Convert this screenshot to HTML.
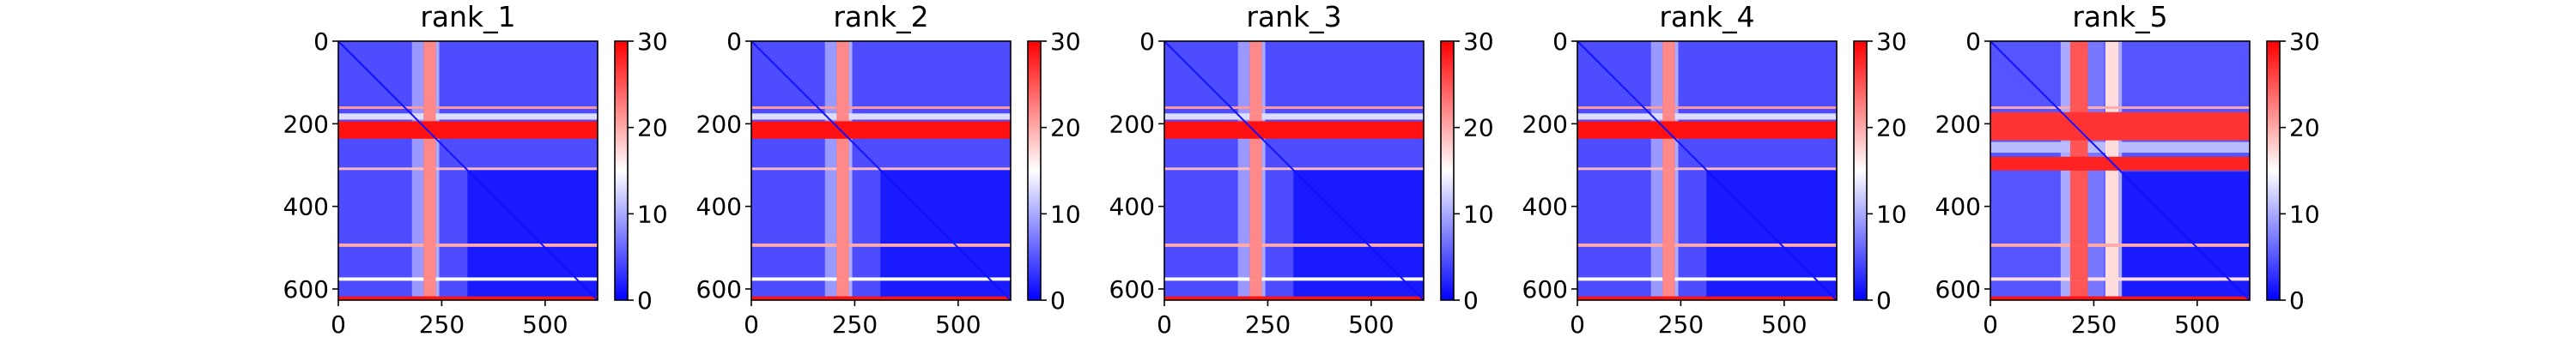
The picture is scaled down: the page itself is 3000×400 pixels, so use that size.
<!DOCTYPE html>
<html><head><meta charset="utf-8">
<style>
html,body{margin:0;padding:0;background:#fff;}
#root{position:relative;width:3000px;height:400px;overflow:hidden;font-family:"DejaVu Sans","Liberation Sans",sans-serif;}
svg{position:absolute;left:0;top:0;}
</style></head>
<body>
<div id="root">
<svg id="svg" width="3000" height="400" xmlns="http://www.w3.org/2000/svg">
<defs>
<linearGradient id="cbgrad" x1="0" y1="1" x2="0" y2="0">
<stop offset="0" stop-color="rgb(0,0,255)"/><stop offset="0.5" stop-color="#ffffff"/><stop offset="1" stop-color="rgb(255,0,0)"/>
</linearGradient>
</defs>
</svg>
</div>
<script>
// ---- data ----
var panelTitles = ["rank_1","rank_2","rank_3","rank_4","rank_5"];
var matrixSize = 627;
var xTicks = [0,250,500];
var yTicks = [0,200,400,600];
var cbTicks = [0,10,20,30];
var vmax = 30;
var rowsA = [[158,164,21],[175,190,13],[194,236,29],[306,312,19],[490,498,20],[572,580,15],[618,627,29]];
var colsA = [[178,206,9],[206,236,22],[236,244,10]];
var rows5 = [[158,164,20],[172,240,27],[244,270,11],[280,313,28],[490,498,20],[572,580,17],[618,627,29]];
var cols5 = [[170,193,10],[193,236,25],[236,275,7],[278,310,17],[310,318,10]];
var rowSets = [rowsA,rowsA,rowsA,rowsA,rows5];
var colSets = [colsA,colsA,colsA,colsA,cols5];
var blockSplit = [312,312,312,312,316];
var baseUpper = [4.5,4.5,4.5,4.5,5];
var baseLower = [1.5,1.5,1.5,1.5,1.5];

// ---- layout ----
var left0=394, stepX=481, topY=48, size=302;
var svg=document.getElementById('svg');
var NS='http://www.w3.org/2000/svg';
function el(tag,attrs,parent){var e=document.createElementNS(NS,tag);for(var k in attrs)e.setAttribute(k,attrs[k]);(parent||svg).appendChild(e);return e;}
function bwr(v){var t=Math.max(0,Math.min(1,v/vmax));var r,g,b;if(t<0.5){var s=t/0.5;r=255*s;g=255*s;b=255;}else{var s2=(t-0.5)/0.5;r=255;g=255*(1-s2);b=255*(1-s2);}return 'rgb('+Math.round(r)+','+Math.round(g)+','+Math.round(b)+')';}

panelTitles.forEach(function(title,p){
  var L=left0+p*stepX;
  var sc=function(v){return v/matrixSize*size;};
  var g=el('g',{});
  var hm=el('g',{},g);
  el('rect',{x:L,y:topY,width:size,height:size,fill:bwr(baseUpper[p])},hm);
  var bs=sc(blockSplit[p]);
  el('rect',{x:L+bs,y:topY+bs,width:size-bs,height:size-bs,fill:bwr(baseLower[p])},hm);
  colSets[p].forEach(function(c){
    el('rect',{x:L+sc(c[0]),y:topY,width:sc(c[1]-c[0]),height:size,fill:bwr(c[2])},hm);
  });
  rowSets[p].forEach(function(r){
    el('rect',{x:L,y:topY+sc(r[0]),width:size,height:sc(r[1]-r[0]),fill:bwr(r[2])},hm);
    colSets[p].forEach(function(c){
      el('rect',{x:L+sc(c[0]),y:topY+sc(r[0]),width:sc(c[1]-c[0]),height:sc(r[1]-r[0]),fill:bwr(Math.max(r[2],c[2]))},hm);
    });
  });
  el('line',{x1:L,y1:topY,x2:L+size,y2:topY+size,stroke:bwr(1),'stroke-width':2,},hm);
  el('rect',{x:L,y:topY,width:size,height:size,fill:'none',stroke:'#000','stroke-width':1.6,},g);
  var t=el('text',{x:L+size/2,y:31,'text-anchor':'middle','font-size':33,},g);t.textContent=title;
  xTicks.forEach(function(v){var x=L+sc(v);
    el('line',{x1:x,y1:topY+size,x2:x,y2:topY+size+7,stroke:'#000','stroke-width':1.6,},g);
    var tx=el('text',{x:x,y:388,'text-anchor':'middle','font-size':28,},g);tx.textContent=String(v);});
  yTicks.forEach(function(v){var y=topY+sc(v);
    el('line',{x1:L-7,y1:y,x2:L,y2:y,stroke:'#000','stroke-width':1.6,},g);
    var ty=el('text',{x:L-11,y:y+10,'text-anchor':'end','font-size':28,},g);ty.textContent=String(v);});
  var cbx=L+322,cbw=15;
  el('rect',{x:cbx,y:topY,width:cbw,height:size,fill:'url(#cbgrad)',stroke:'#000','stroke-width':1.6,},g);
  cbTicks.forEach(function(v){var y=topY+size-v/vmax*size;
    el('line',{x1:cbx+cbw,y1:y,x2:cbx+cbw+7,y2:y,stroke:'#000','stroke-width':1.6,},g);
    var tc=el('text',{x:cbx+cbw+11,y:y+10,'font-size':28,},g);tc.textContent=String(v);});
});
</script>
</body></html>
